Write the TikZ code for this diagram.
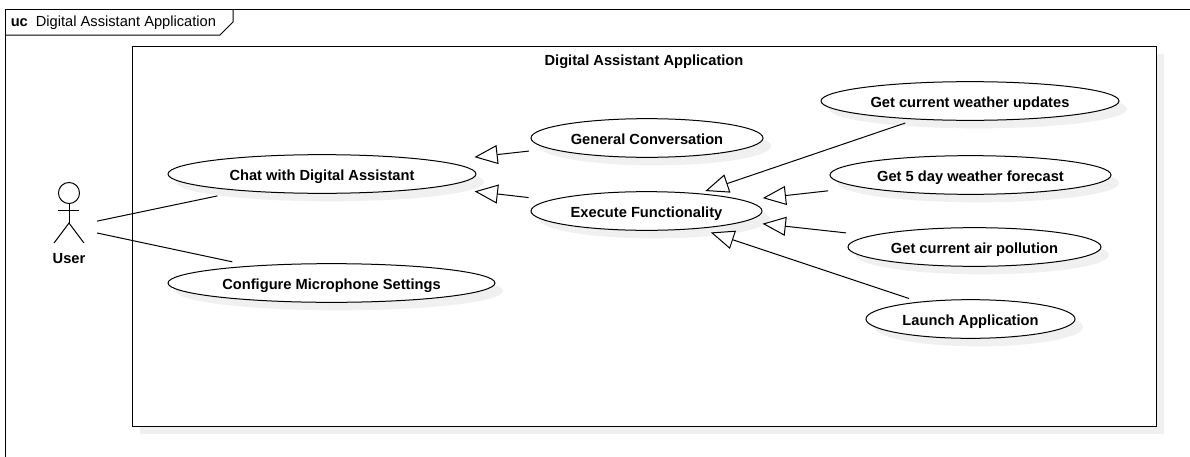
\documentclass[tikz,border=0pt]{standalone}
\usepackage{fontspec}
\setmainfont{Liberation Sans}
\usetikzlibrary{arrows.meta,shapes.geometric,shadows}
\definecolor{shadowgray}{HTML}{F0F0F0}
\tikzset{
	usecase/.style={ellipse,draw=black,line width=0.75pt,fill=white,inner sep=0pt,minimum height=29pt,
		font=\fontsize{11}{13}\selectfont\bfseries,text height=9.4pt,text depth=0pt,
		general shadow={shadow xshift=6pt,shadow yshift=-6pt,fill=shadowgray}},
	assoc/.style={line width=0.75pt},
	generalize/.style={line width=0.75pt,-{Triangle[fill=white,length=17.5pt,width=14.25pt]}},
	stick/.style={line width=0.75pt},
	title/.style={font=\fontsize{11}{13}\selectfont\bfseries,text height=10.4pt,text depth=0pt,inner sep=0pt}
}
\begin{document}
\begin{tikzpicture}[x=0.75pt,y=-0.75pt]
	\useasboundingbox (0,0) rectangle (1190,457);
	\fill[white] (0,0) rectangle (1190,457);

	\draw[line width=0.75pt] (5.5,457) -- (5.5,9.5) -- (1190,9.5);
	\draw[line width=0.75pt] (5.5,35) -- (220,35) -- (233,22) -- (233,9.5);
	\node (frametitle) [title,anchor=west,font=\fontsize{11}{13}\selectfont] at (10.5,19.7) {\textbf{uc}\hspace{6pt}Digital Assistant Application};

	\node (sysbox) [draw=black,line width=0.75pt,fill=white,inner sep=0pt,minimum width=768pt,minimum height=285pt,
		general shadow={shadow xshift=6pt,shadow yshift=-6pt,fill=shadowgray}] at (644,236) {};
	\node (systitle) [title] at (644,58.7) {Digital Assistant Application};

	\node (chat) [usecase,minimum width=231pt]    at (322,174)   {Chat with Digital Assistant};
	\node (conf) [usecase,minimum width=245.25pt] at (331.5,283) {Configure Microphone Settings};
	\node (gen)  [usecase,minimum width=174pt]    at (647,138)   {General Conversation};
	\node (exec) [usecase,minimum width=173.25pt] at (646.5,211) {Execute Functionality};
	\node (wthr) [usecase,minimum width=223.5pt]  at (970,101)   {Get current weather updates};
	\node (five) [usecase,minimum width=210.75pt] at (970.5,175) {Get 5 day weather forecast};
	\node (air)  [usecase,minimum width=189.75pt] at (974.5,247) {Get current air pollution};
	\node (lnch) [usecase,minimum width=156.75pt] at (970.5,319) {Launch Application};

	\draw[stick] (69,193) circle (7.9pt);
	\draw[stick] (69,204) -- (69,223);
	\draw[stick] (58,210) -- (79,210);
	\draw[stick] (54,243) -- (69,223) -- (84,243);
	\coordinate (user) at (69,227);
	\node (userlabel) [title] at (69,256.2) {User};

	\draw[assoc,shorten <=21.5pt,shorten >=18.3pt] (user) -- (chat);
	\draw[assoc,shorten <=21.5pt,shorten >=14pt]   (user) -- (conf);

	\draw[generalize,shorten <=15.4pt,shorten >=26.7pt] (gen)  -- (chat);
	\draw[generalize,shorten <=16.2pt,shorten >=28pt]   (exec) -- (chat);
	\draw[generalize,shorten <=8.3pt,shorten >=5.3pt]   (wthr) -- (exec);
	\draw[generalize,shorten <=24pt,shorten >=14.3pt]   (five) -- (exec);
	\draw[generalize,shorten <=18.5pt,shorten >=13.9pt] (air)  -- (exec);
	\draw[generalize,shorten <=7.7pt,shorten >=9pt]     (lnch) -- (exec);
\end{tikzpicture}
\end{document}
